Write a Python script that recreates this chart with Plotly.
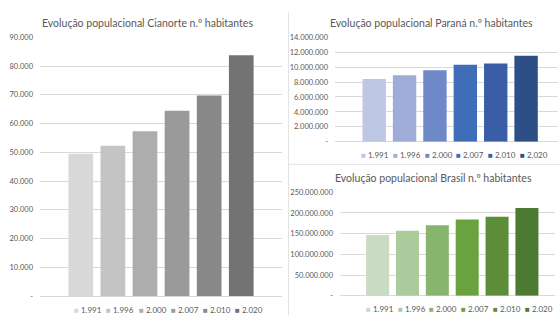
import plotly.graph_objects as go

years = ["1.991", "1.996", "2.000", "2.007", "2.010", "2.020"]

cianorte_vals = [49500, 52300, 57300, 64500, 69800, 83800]
parana_vals = [8400000, 8920000, 9570000, 10310000, 10490000, 11520000]
brasil_vals = [147000000, 157000000, 170500000, 184500000, 191000000, 212000000]

gray_colors = ["#d8d8d8", "#c4c4c4", "#adadad", "#9a9a9a", "#888888", "#737373"]
blue_colors = ["#bdc6e3", "#9eacd7", "#6e88c8", "#3f6db8", "#3a5da5", "#2e4e86"]
green_colors = ["#c9dbc2", "#aacb9b", "#88b56e", "#6aa23f", "#5c8e3a", "#4b7a30"]

cianorte_ticks = [0, 10000, 20000, 30000, 40000, 50000, 60000, 70000, 80000, 90000]
cianorte_ticktext = ["-", "10.000", "20.000", "30.000", "40.000", "50.000", "60.000", "70.000", "80.000", "90.000"]
parana_ticks = [0, 2000000, 4000000, 6000000, 8000000, 10000000, 12000000, 14000000]
parana_ticktext = ["-", "2.000.000", "4.000.000", "6.000.000", "8.000.000", "10.000.000", "12.000.000", "14.000.000"]
brasil_ticks = [0, 50000000, 100000000, 150000000, 200000000, 250000000]
brasil_ticktext = ["-", "50.000.000", "100.000.000", "150.000.000", "200.000.000", "250.000.000"]

titles = ["Evolução populacional Cianorte n.º habitantes",
          "Evolução populacional Paraná n.º habitantes",
          "Evolução populacional Brasil n.º habitantes"]

W, H = 560, 320
FONT = "Lato"
TXT = "#595959"
GRID = "#d9d9d9"


def px(x):
    return x / W


def py(y):
    return 1 - y / H


fig = go.Figure()

panels = [
    dict(vals=cianorte_vals, colors=gray_colors, ax="x", ay="y",
         xdom=[40, 281.7], ydom=[300.5, 34.3], xr=[-1.27, 6.26], yr=[0, 90000],
         tv=cianorte_ticks, tt=cianorte_ticktext, title=titles[0], tx=147.5, ty=20,
         leg_x=72.3, leg_dx=32.1, leg_y=315),
    dict(vals=parana_vals, colors=blue_colors, ax="x2", ay="y2",
         xdom=[335, 558], ydom=[141.7, 34.3], xr=[-1.29, 6.05], yr=[0, 14000000],
         tv=parana_ticks, tt=parana_ticktext, title=titles[1], tx=431, ty=20,
         leg_x=359, leg_dx=31.8, leg_y=155.5),
    dict(vals=brasil_vals, colors=green_colors, ax="x3", ay="y3",
         xdom=[340, 555], ydom=[300.3, 193.7], xr=[-1.26, 5.94], yr=[0, 250000000],
         tv=brasil_ticks, tt=brasil_ticktext, title=titles[2], tx=433, ty=179.5,
         leg_x=364, leg_dx=31.7, leg_y=314),
]

annotations = []
layout_axes = {}
for k, p in enumerate(panels):
    for i, (yr, v) in enumerate(zip(years, p["vals"])):
        fig.add_trace(go.Bar(x=[yr], y=[v], marker=dict(color=p["colors"][i], line=dict(width=0)),
                             xaxis=p["ax"], yaxis=p["ay"], showlegend=False, width=0.77))
        annotations.append(dict(
            x=px(p["leg_x"] + i * p["leg_dx"]), y=py(p["leg_y"]), xref="paper", yref="paper",
            xanchor="left", yanchor="middle", showarrow=False,
            text=f"<span style='color:{p['colors'][i]}'>■</span> {yr}",
            font=dict(family=FONT, size=8, color=TXT)))
    annotations.append(dict(
        x=px(p["tx"]), y=py(p["ty"]), xref="paper", yref="paper", xanchor="center", yanchor="middle",
        showarrow=False, text=p["title"], font=dict(family=FONT, size=10.5, color=TXT)))
    suffix = "" if k == 0 else str(k + 1)
    layout_axes["xaxis" + suffix] = dict(
        domain=[px(p["xdom"][0]), px(p["xdom"][1])], anchor=p["ay"], type="category",
        range=p["xr"], showticklabels=False, showgrid=False, zeroline=False,
        showline=False, ticks="", fixedrange=True)
    layout_axes["yaxis" + suffix] = dict(
        domain=[py(p["ydom"][0]), py(p["ydom"][1])], anchor=p["ax"], range=p["yr"],
        tickvals=p["tv"], ticktext=p["tt"], showgrid=True, gridcolor=GRID, gridwidth=1,
        zeroline=True, zerolinecolor=GRID, zerolinewidth=1, showline=False, ticks="",
        tickfont=dict(family=FONT, size=7.5, color=TXT), ticklabelstandoff=6)

shapes = [
    dict(type="line", xref="paper", yref="paper", x0=px(288.5), x1=px(288.5), y0=py(8), y1=0,
         line=dict(color="#e3e3e3", width=1)),
    dict(type="line", xref="paper", yref="paper", x0=px(288.5), x1=1, y0=py(165), y1=py(165),
         line=dict(color="#e3e3e3", width=1)),
]

fig.update_layout(
    width=W, height=H, margin=dict(l=0, r=0, t=0, b=0),
    paper_bgcolor="white", plot_bgcolor="white",
    barmode="relative", bargap=0.23,
    annotations=annotations, shapes=shapes, showlegend=False,
    **layout_axes)

fig.write_html("out.html", config={"displayModeBar": False})
